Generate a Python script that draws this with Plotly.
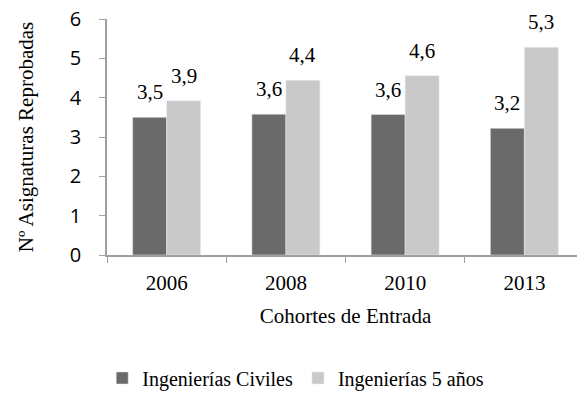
import plotly.graph_objects as go

categories = ["2006", "2008", "2010", "2013"]
civiles = [3.50, 3.58, 3.57, 3.22]
cinco_anios = [3.92, 4.44, 4.56, 5.28]
series_names = ["Ingenierías Civiles", "Ingenierías 5 años"]
y_ticks = [0, 1, 2, 3, 4, 5, 6]

serif = "Liberation Serif, Times New Roman, serif"
FS = 21
W, H = 577, 395
ML, MR, MT, MB = 99, 1, 11, 148
BARGAP = 0.43

fig = go.Figure()
fig.add_bar(x=categories, y=civiles, name=series_names[0], marker_color="#6a6a6a")
fig.add_bar(x=categories, y=cinco_anios, name=series_names[1], marker_color="#c9c9c9")

# data labels: centred over each bar of the group (category axis -> index coords)
bar_frac = (1 - BARGAP) / 2
for series, off in ((civiles, -bar_frac / 2), (cinco_anios, bar_frac / 2)):
    for i, v in enumerate(series):
        fig.add_annotation(x=i + off, y=v, xref="x", yref="y", text=f"{v:.1f}".replace(".", ","),
                           showarrow=False, yanchor="bottom", xanchor="center",
                           yshift=11,
                           font=dict(family=serif, size=FS, color="black"))

fig.update_layout(
    width=W, height=H,
    margin=dict(l=ML, r=MR, t=MT, b=MB),
    paper_bgcolor="white", plot_bgcolor="white",
    barmode="group", bargap=BARGAP, bargroupgap=0,
    legend=dict(orientation="h", x=-0.01, xanchor="left", y=-0.521, yanchor="middle",
                font=dict(family=serif, size=20, color="black"), itemwidth=30,
                tracegroupgap=0),
    showlegend=True,
)
fig.update_xaxes(
    type="category", tickson="boundaries", ticks="outside", ticklen=6, tickcolor="#a0a0a0",
    showline=True, linecolor="#a0a0a0", linewidth=1.5,
    range=[-0.5, len(categories) - 0.5],
    tickfont=dict(family=serif, size=FS, color="black"),
    ticklabelstandoff=8,
    title=dict(text="Cohortes de Entrada", font=dict(family=serif, size=FS, color="black"), standoff=14),
    automargin=False,
)
fig.update_yaxes(
    range=[0, 6], tickvals=y_ticks, ticks="outside", ticklen=6, tickcolor="#a0a0a0",
    showline=True, linecolor="#a0a0a0", linewidth=1.5, showgrid=False, zeroline=False,
    tickfont=dict(family="Open Sans, Liberation Sans, sans-serif", size=20, color="black"),
    ticklabelstandoff=14, ticklabeloverflow="allow",
    title=dict(text="Nº Asignaturas Reprobadas", font=dict(family=serif, size=FS, color="black"), standoff=30),
    automargin=False,
)

fig.write_html("out.html")
